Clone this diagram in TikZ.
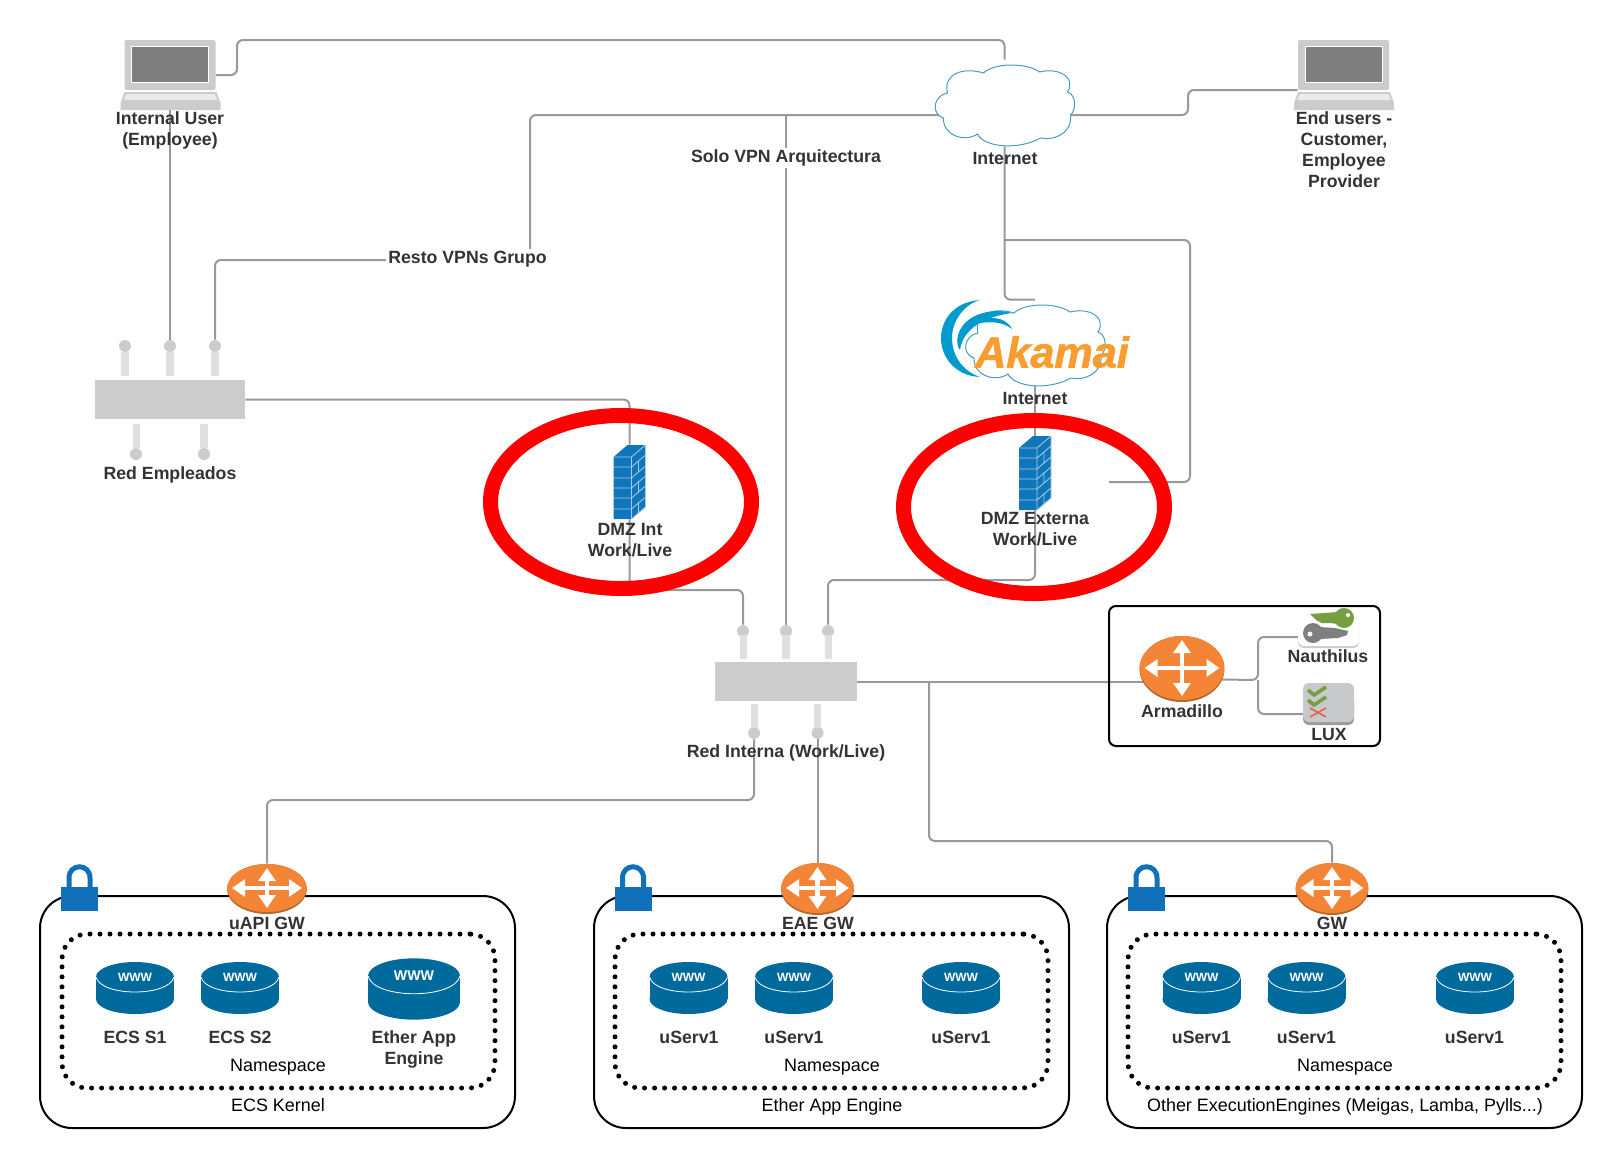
\documentclass[tikz,border=0pt]{standalone}
\usepackage{fontspec}
\setmainfont{Liberation Sans}
\newfontfamily\akafont[FakeBold=1.5]{Liberation Sans}
\usepackage{xcolor}
\usetikzlibrary{arrows.meta,backgrounds,shapes.geometric}
\definecolor{wirecol}{HTML}{999999}
\definecolor{inkcol}{HTML}{333333}
\definecolor{hwgray}{HTML}{CCCCCC}
\definecolor{stemgray}{HTML}{E0E0E0}
\definecolor{gworange}{HTML}{F58536}
\definecolor{gwdark}{HTML}{B5682C}
\definecolor{diskblue}{HTML}{006A9C}
\definecolor{wallblue}{HTML}{0F76BC}
\definecolor{wallline}{HTML}{A9CBE3}
\definecolor{lockblue}{HTML}{1170BA}
\definecolor{cloudline}{HTML}{4A9CC0}
\definecolor{akablue}{HTML}{009BCE}
\definecolor{akaorange}{HTML}{F99D31}
\definecolor{keygreen}{HTML}{76A040}
\definecolor{keygray}{HTML}{7F7F7F}
\definecolor{luxgray}{HTML}{C8C9CB}
\definecolor{luxdark}{HTML}{9A9B9D}
\definecolor{checkred}{HTML}{E8604C}

\begin{document}
\begin{tikzpicture}[
x=0.5pt,
y=-0.5pt,
every node/.style={inner sep=0pt,text=inkcol},
wire/.style={draw=wirecol,line width=1pt,rounded corners=3pt},
lbl/.style={font=\fontsize{8.85}{10.5}\selectfont\bfseries,align=center},
plain/.style={font=\fontsize{8.97}{10.5}\selectfont,text=black,align=center},
tag/.style={lbl,fill=white,inner sep=1pt},
hub/.style={rectangle,fill=hwgray,minimum width=#1,minimum height=19.5pt},
portdot/.style={circle,fill=hwgray,minimum size=6pt},
stem/.style={fill=stemgray},
spot/.style={rectangle,minimum width=#1},
ring/.style={ellipse,draw=red,line width=7.5pt,minimum width=130.5pt,minimum height=86.5pt},
kernelbox/.style={rectangle,draw=black,line width=1pt,rounded corners=16pt,minimum width=237.5pt,minimum height=116pt},
dotbox/.style={rectangle,draw=black,line width=2.5pt,line cap=round,dash pattern=on 0pt off 5pt,rounded corners=12.5pt,minimum width=216.5pt,minimum height=77pt},
netbox/.style={rectangle,draw=black,line width=1pt,rounded corners=3.5pt,minimum width=135.5pt,minimum height=70pt},
router/.style={ellipse,fill=gwdark,path picture={
  \fill[gworange] ([yshift=1pt]path picture bounding box.center) ellipse [x radius=\pgfkeysvalueof{/pgf/minimum width}/2,y radius=\pgfkeysvalueof{/pgf/minimum height}/2];
  \draw[gwarrow,line width=1.6pt] ([xshift=2.5pt,yshift=0.5pt]path picture bounding box.west) -- ([xshift=-2.5pt,yshift=0.5pt]path picture bounding box.east);
  \draw[gwarrow,line width=2.4pt] ([yshift=-2pt]path picture bounding box.north) -- ([yshift=3pt]path picture bounding box.south);
}},
gwarrow/.style={white,{Triangle[length=6.5pt,width=8.5pt]}-{Triangle[length=6.5pt,width=8.5pt]}},
www/.style={transform shape,font=\fontsize{6}{7}\selectfont\bfseries,text=white},
pics/laptop/.style={code={
  \fill[hwgray,rounded corners=1pt] (-45.5,-35) rectangle (45.5,15);
  \fill[keygray,draw=white,line width=0.5pt] (-38.5,-29) rectangle (38.5,7);
  \fill[hwgray] (-45.5,17) -- (46.5,17) -- (50.5,28) -- (50.5,35) -- (-49.5,35) -- (-49.5,28) -- cycle;
  \fill[white!92!black] (-43.5,19) -- (44.5,19) -- (47.5,25) -- (-46.5,25) -- cycle;
}},
pics/cloud/.style={code={
  \draw[fill=white,draw=cloudline,line width=0.5pt] (-21,-32) .. controls (-10,-42.5) and (22,-42.5) .. (35,-33)
    .. controls (55,-38) and (72,-27) .. (63,-13) .. controls (72,-10) and (72,5) .. (66,10)
    .. controls (68,28) and (50,36) .. (36,33) .. controls (15,45) and (-20,43) .. (-27,29)
    .. controls (-40,38) and (-62,30) .. (-61,13) .. controls (-75,8) and (-70,-10) .. (-57,-12)
    .. controls (-62,-32) and (-40,-38) .. (-21,-32) -- cycle;
}},
pics/firewall/.style={code={
  \fill[wallblue] (-16,-25) -- (-2,-37) -- (16,-37) -- (16,25) -- (2,37) -- (-16,37) -- cycle;
  \draw[wallline,line width=0.4pt] (-16,-25) -- (2,-25) -- (16,-37) (2,-25) -- (2,37)
    (-16,-15) -- (2,-15) -- (16,-27) (-16,-4) -- (2,-4) -- (16,-16) (-16,6) -- (2,6) -- (16,-6)
    (-16,16) -- (2,16) -- (16,4) (-16,27) -- (2,27) -- (16,15)
    (9,-21) -- (9,-10) (9,-1) -- (9,10) (9,20) -- (9,31) (16,-37) -- (16,25) -- (2,37);
}},
pics/lockpic/.style={code={
  \draw[lockblue,line width=2.5pt] (-10.5,10) -- (-10.5,-9) .. controls (-10.5,-24) and (10.5,-24) .. (10.5,-9) -- (10.5,10);
  \fill[lockblue] (-18.5,0) rectangle (18.5,24);
}},
pics/disk/.style={code={
  \fill[diskblue] (0,11) ellipse [x radius=39,y radius=15];
  \fill[diskblue] (-39,-11) rectangle (39,11);
  \fill[diskblue] (0,-11) ellipse [x radius=39,y radius=15];
  \draw[white,line width=0.4pt] (-39,-11) .. controls (-34,9) and (34,9) .. (39,-11);
  \node[www] (www) at (0,-11) {WWW};
}}
]
\useasboundingbox (0,0) rectangle (1623,1168);

% end users and internet
\pic at (170,75) {laptop};
\node[spot=45.5pt,minimum height=35pt] (userint) at (170,75) {};
\pic at (1343.5,75) {laptop};
\node[spot=45.5pt,minimum height=35pt] (userext) at (1343.5,75) {};
\node[lbl] (userintlbl) at (170,130.5) {Internal User\\(Employee)};
\node[lbl] (userextlbl) at (1344,150) {End users -\\Customer,\\Employee\\Provider};
\pic at (1004.5,105) {cloud};
\node[spot=70.5pt,minimum height=41pt] (cloudnet) at (1004.5,105) {};
\node[lbl] (cloudnetlbl) at (1005,158.5) {Internet};

% akamai
\pic at (1035,345) {cloud};
\node[spot=70.5pt,minimum height=41pt] (cloudaka) at (1035,345) {};
\fill[akablue] (980,300) .. controls (952,302) and (941,322) .. (941,338) .. controls (941,358) and (956,376) .. (980,377)
  .. controls (965,372) and (952,358) .. (952,338) .. controls (952,320) and (965,304) .. (980,300) -- cycle;
\fill[akablue] (1012,313) .. controls (995,308) and (965,312) .. (958,335) .. controls (956,342) and (958,348) .. (960,350)
  .. controls (962,335) and (975,318) .. (1012,313) -- cycle;
\fill[akablue] (972,325) .. controls (985,315) and (1005,315) .. (1012,329) .. controls (1003,322) and (990,320) .. (972,325) -- cycle;
\node[font=\fontsize{21.6}{22}\akafont\bfseries\itshape,text=akaorange] (akalogo) at (1052,352) {Akamai};
\node[lbl] (cloudakalbl) at (1035,398.5) {Internet};

% employee network
\node[hub=75pt] (swemp) at (170,399.5) {};
\node[portdot] (swempA) at (125,346) {};
\node[portdot] (swempB) at (170,346) {};
\node[portdot] (swempC) at (215,346) {};
\node[portdot] (swempD) at (136,454) {};
\node[portdot] (swempE) at (204,454) {};
\fill[stem] (121,352) rectangle (129,376);
\fill[stem] (166,352) rectangle (174,376);
\fill[stem] (211,352) rectangle (219,376);
\fill[stem] (132.5,424) rectangle (139.5,448);
\fill[stem] (200,424) rectangle (208,448);
\node[lbl] (swemplbl) at (170,475) {Red Empleados};

% firewalls
\pic at (629.5,482) {firewall};
\node[spot=16pt,minimum height=37pt] (fwint) at (629.5,482) {};
\node[lbl] (fwintlbl) at (630,540) {DMZ Int\\Work/Live};
\pic at (1035,473) {firewall};
\node[spot=16pt,minimum height=37pt] (fwext) at (1035,473) {};
\node[lbl] (fwextlbl) at (1035,529.5) {DMZ Externa\\Work/Live};
\coordinate (fwextport) at (1109,482);
\node[ring] (ringint) at (621,502) {};
\node[ring] (ringext) at (1034,507) {};

% internal network
\node[hub=71pt] (swint) at (786,681.5) {};
\node[portdot] (swintA) at (743,631) {};
\node[portdot] (swintB) at (786,631) {};
\node[portdot] (swintC) at (828,631) {};
\node[portdot] (swintD) at (754,733) {};
\node[portdot] (swintE) at (817.5,733) {};
\fill[stem] (739.5,635) rectangle (746.5,659);
\fill[stem] (782,635) rectangle (790,659);
\fill[stem] (824.5,635) rectangle (831.5,659);
\fill[stem] (750.5,704) rectangle (757.5,728);
\fill[stem] (813.5,704) rectangle (820.5,728);
\node[lbl] (swintlbl) at (786,753) {Red Interna (Work/Live)};

% armadillo group
\node[netbox] (netarma) at (1244.5,676) {};
\node[router,minimum width=42.5pt,minimum height=33pt] (armadillo) at (1182,669) {};
\node[lbl] (armadillolbl) at (1182,711) {Armadillo};
\fill[hwgray,rounded corners=3pt] (1298,615) rectangle (1359,648);
\node[rectangle,fill=white,rounded corners=3pt,minimum width=30.5pt,minimum height=18pt] (keycard) at (1328.5,628) {};
\fill[keygreen] (1344,618) circle [radius=10];
\fill[keygreen] (1310,614) -- (1338,612) -- (1338,624) -- (1330,623) -- (1322,623) -- (1316,620) -- cycle;
\fill[white] (1348,615) circle [radius=2];
\fill[keygray] (1313,633) circle [radius=10];
\fill[keygray] (1320,627) -- (1335,628) -- (1348,631) -- (1347,635) -- (1338,638) -- (1320,639) -- cycle;
\fill[white] (1310,634) circle [radius=2.5];
\node[lbl] (keycardlbl) at (1328,656) {Nauthilus};
\fill[luxdark,rounded corners=3pt] (1303,695) rectangle (1354,725);
\node[rectangle,fill=luxgray,rounded corners=3pt,minimum width=25.5pt,minimum height=19.5pt] (luxcard) at (1328.5,702.5) {};
\draw[keygreen,line width=1.8pt] (1308,690) -- (1314,695) -- (1326,687);
\draw[keygreen,line width=1.8pt] (1308,700) -- (1314,705) -- (1326,697);
\draw[checkred,line width=0.8pt] (1310,708) -- (1326,717) (1310,717) -- (1326,708);
\node[lbl] (luxcardlbl) at (1329,734) {LUX};

% ecs kernel
\node[kernelbox] (kernelapi) at (277.5,1012) {};
\node[dotbox] (nsapi) at (278.5,1011) {};
\pic at (79.5,887) {lockpic};
\node[router,minimum width=40pt,minimum height=25pt] (gwapi) at (267,889) {};
\node[lbl] (gwapilbl) at (267,923) {uAPI GW};
\pic (diskA) at (135,988) {disk};
\pic (diskB) at (240,988) {disk};
\pic[scale=1.18] (diskC) at (414,989) {disk};
\node[lbl] (diskAlbl) at (135,1037) {ECS S1};
\node[lbl] (diskBlbl) at (240,1037) {ECS S2};
\node[lbl] (diskClbl) at (414,1049) {Ether App\\Engine};
\node[plain] (nsapilbl) at (278,1067) {Namespace};
\node[plain] (kernelapilbl) at (278,1105) {ECS Kernel};

% ether app engine
\node[kernelbox] (kerneleae) at (831.5,1012) {};
\node[dotbox] (nseae) at (831.5,1011) {};
\pic at (633,887) {lockpic};
\node[router,minimum width=36.5pt,minimum height=26pt] (gweae) at (817.5,889) {};
\node[lbl] (gweaelbl) at (818,923) {EAE GW};
\pic (diskD) at (688.5,988) {disk};
\pic (diskE) at (794,988) {disk};
\pic (diskF) at (961,988) {disk};
\node[lbl] (diskDlbl) at (689,1037) {uServ1};
\node[lbl] (diskElbl) at (794,1037) {uServ1};
\node[lbl] (diskFlbl) at (961,1037) {uServ1};
\node[plain] (nseaelbl) at (832,1067) {Namespace};
\node[plain] (kerneleaelbl) at (832,1107) {Ether App Engine};

% other engines
\node[kernelbox] (kernelother) at (1344.5,1012) {};
\node[dotbox] (nsother) at (1344.5,1011) {};
\pic at (1146.5,887) {lockpic};
\node[router,minimum width=36.5pt,minimum height=26pt] (gwother) at (1332,889) {};
\node[lbl] (gwotherlbl) at (1332,923) {GW};
\pic (diskG) at (1201.5,988) {disk};
\pic (diskH) at (1306.5,988) {disk};
\pic (diskI) at (1475,988) {disk};
\node[lbl] (diskGlbl) at (1201.5,1037) {uServ1};
\node[lbl] (diskHlbl) at (1306.5,1037) {uServ1};
\node[lbl] (diskIlbl) at (1474.5,1037) {uServ1};
\node[plain] (nsotherlbl) at (1345,1067) {Namespace};
\node[plain] (kernelotherlbl) at (1345,1107) {Other ExecutionEngines (Meigas, Lamba, Pylls...)};

\node[tag] (vpnsolo) at (786,158) {Solo VPN Arquitectura};
\node[tag] (vpnresto) at (467.5,259) {Resto VPNs Grupo};
\coordinate (vpntap) at (786,115);
\coordinate (nettap) at (1004.5,240);
\coordinate (armatap) at (1258,680);
\coordinate (gwtap) at (929,681.5);

\begin{scope}[on background layer]
\draw[wire] (userint.east) -- (237,75) -- (237,40) -- (1004.5,40) -- ([yshift=2pt]cloudnet.north);
\draw[wire] (userint.south) -- (swempB.north);
\draw[wire] (userext.west |- 0,90) -- (1188,90) -- (1188,115) -- ([yshift=-5pt]cloudnet.center);
\draw[wire] ([yshift=-5pt]cloudnet.center) -- (530,115) -- (530,260) -- (215,260) -- (swempC.north);
\draw[wire] (vpntap) -- (swintB.north);
\draw[wire] (cloudnet.south) |- ([yshift=2pt]cloudaka.north);
\draw[wire] (nettap) -- (1190,240) -- (1190,482) -- (fwextport);
\draw[wire] (cloudaka.south) -- (fwext.north);
\draw[wire] (fwext.south) -- (1035,580) -- (828,580) -- (swintC.north);
\draw[wire] (swemp.east) -| (fwint.north);
\draw[wire] (fwint.south) -- (629.5,590) -- (743,590) -- (swintA.north);
\draw[wire] (swint.east) -- (swint.east -| armadillo.center);
\draw[wire] ([yshift=-5pt]armadillo.center) -- (armatap) -- (1258,637) -- ([yshift=-4.5pt]keycard.center);
\draw[wire] (armatap) -- (1258,714) -- ([yshift=-5.75pt]luxcard.center);
\draw[wire] (gwtap) -- (929,841) -- (1332,841) -- (gwother.north);
\draw[wire] (swintD.south) -- (754,800) -- (267,800) -- (gwapi.north);
\draw[wire] (swintE.south) -- (gweae.north);
\end{scope}
\end{tikzpicture}
\end{document}
